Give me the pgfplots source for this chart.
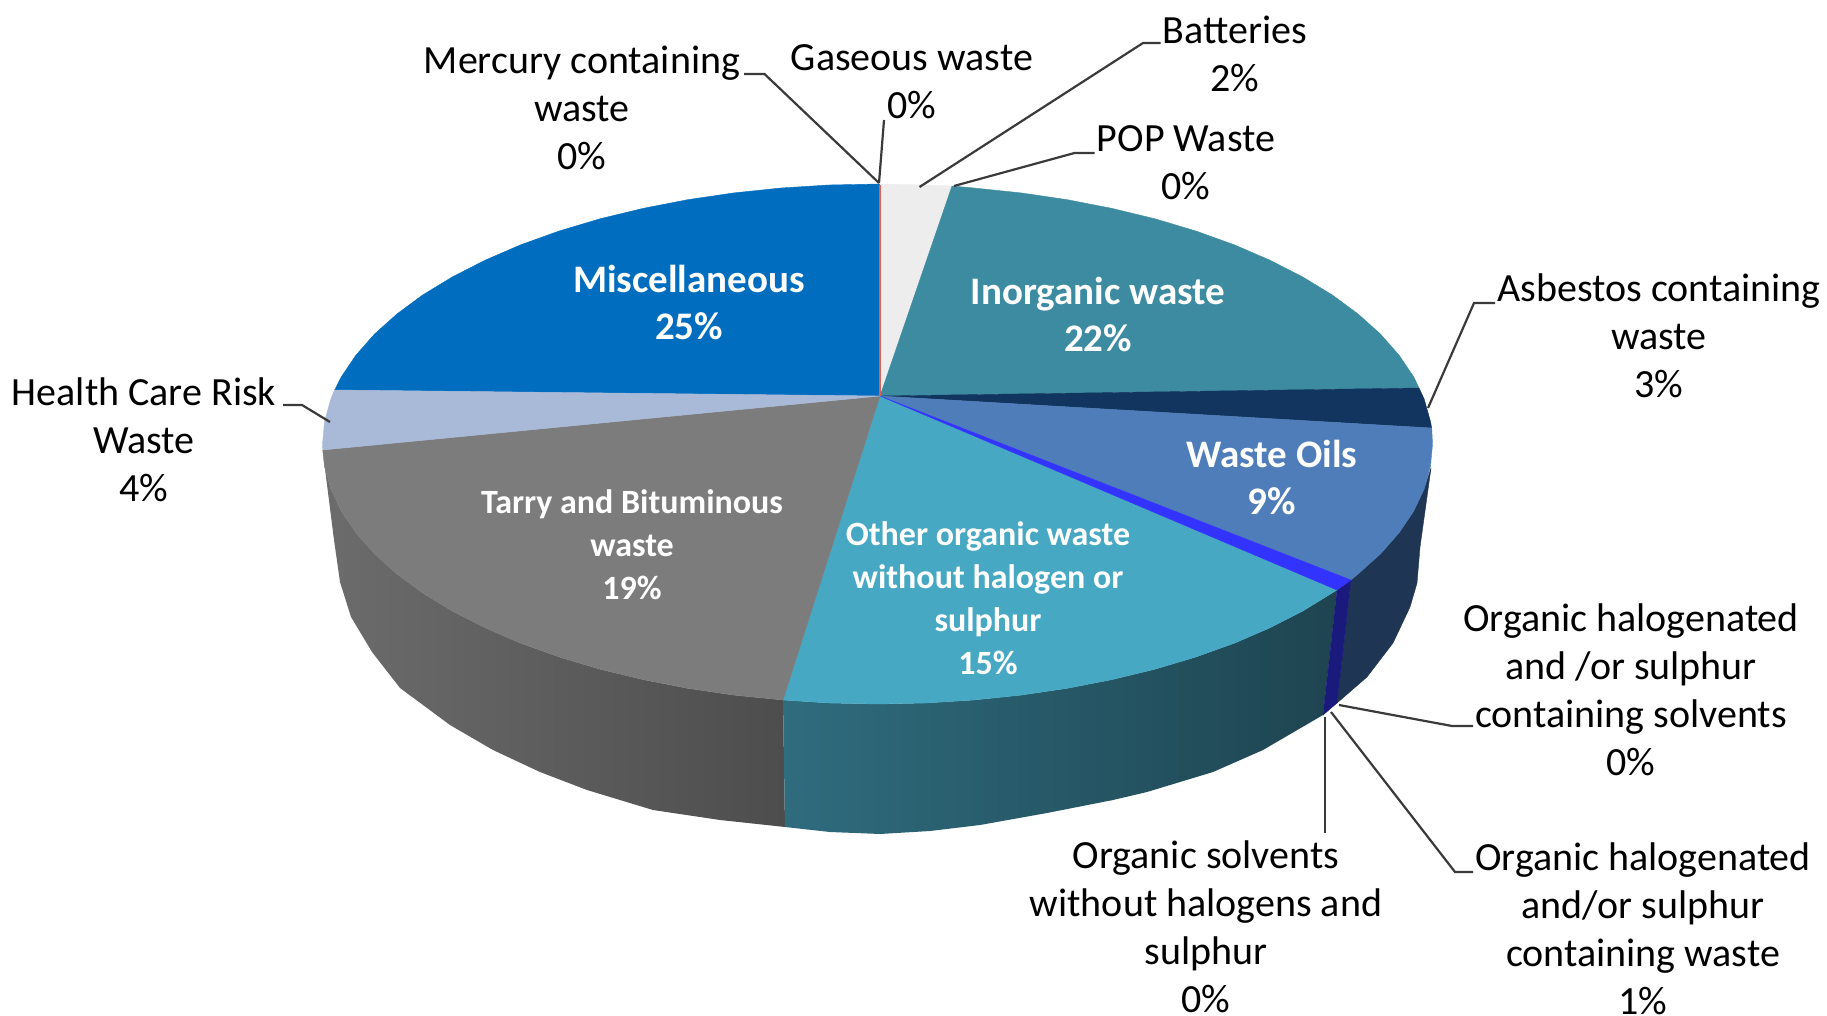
\documentclass[border=0pt]{standalone}
\usepackage{pgfplots}
\pgfplotsset{compat=1.18}
\usepackage{fontspec}
\setmainfont{Carlito}
\definecolor{cMisc}{HTML}{006DBF}
\definecolor{cBatt}{HTML}{EDEDED}
\definecolor{cInorg}{HTML}{3D8BA1}
\definecolor{cAsb}{HTML}{12355F}
\definecolor{cOils}{HTML}{4F7DB9}
\definecolor{cThin}{HTML}{3333FF}
\definecolor{cOther}{HTML}{47A8C4}
\definecolor{cTarry}{HTML}{7C7C7C}
\definecolor{cHealth}{HTML}{A9B9D8}
\definecolor{cLead}{HTML}{3A3A3A}
\definecolor{cGrayL}{HTML}{6C6C6C}
\definecolor{cGrayR}{HTML}{4D4D4D}
\definecolor{cTealL}{HTML}{2F6C7E}
\definecolor{cTealR}{HTML}{1E4450}
\definecolor{cNavySide}{HTML}{1E3553}
\definecolor{cThinSide}{HTML}{1A1A7D}
\definecolor{cRed}{HTML}{E26050}
\tikzset{
  lab/.style={align=center,inner sep=0pt,text=black,font=\fontsize{40}{48}\selectfont},
  wlab/.style={align=center,inner sep=0pt,text=white,font=\fontsize{39}{47}\selectfont\bfseries},
  wsmall/.style={align=center,inner sep=0pt,text=white,font=\fontsize{34}{43}\selectfont\bfseries},
}
\pgfplotsset{
  face/.style={fill=#1,draw=#1,line width=0.4pt,no markers,forget plot},
  leader/.style={draw=cLead,line width=2.2pt,no markers,forget plot},
}
\begin{document}
\begin{tikzpicture}
\begin{axis}[
  at={(0,0)},anchor=south west,
  scale only axis,width=1827pt,height=1016pt,
  xmin=0,xmax=1827,ymin=0,ymax=1016,y dir=reverse,
  hide axis,clip=false,
]
% side walls
\addplot[no markers,forget plot,draw=none,left color=cGrayL,right color=cGrayR] coordinates {
 (322.6,450) (324.6,466.7) (330.9,489.1) (341.4,511.3) (356,532.9) (374.5,553.9) (396.9,574) (422.8,593.1) (452.4,611.1) (485.1,627.8) (520.7,643.2) (559.2,657) (600,669.2) (643,679.6) (687.7,688.3) (733.9,695.1) (783,700)
 (785,827) (720,820) (653,810) (587,790) (540,772) (493,750) (450,725) (400,688) (372,652) (351,617) (340,582) (334,540)
} -- cycle;
\addplot[no markers,forget plot,draw=none,left color=cTealL,right color=cTealR] coordinates {
 (783,700) (829.1,703) (877.5,704) (925.9,703) (973.8,700) (1021.1,695.1) (1067.3,688.3) (1112,679.6) (1155,669.2) (1195.8,657) (1234.3,643.2) (1269.9,627.8) (1302.6,611.1) (1337,590)
 (1323,715) (1263,750) (1213,772) (1180,782) (1147,792) (1113,800) (1047,813) (980,825) (930,831) (880,834) (830,832) (785,827)
} -- cycle;
\addplot[face=cNavySide] coordinates {
 (1350.9,580) (1380.5,553.9) (1399,532.9) (1413.6,511.3) (1424.1,489.1) (1431,468) (1420,547) (1417,583) (1410,607) (1393,643) (1367,677) (1337,703)
} -- cycle;
\addplot[face=cThinSide] coordinates {
 (1337,590) (1350.9,580) (1337,703) (1323,715)
} -- cycle;
% top faces
\addplot[face=cMisc] coordinates {
 (880,396) (334.6,390) (341.4,376.7) (356,355.1) (374.5,334.1) (396.9,314) (422.8,294.9) (452.4,276.9) (485.1,260.2) (520.7,244.8) (559.2,231) (600,218.8) (643,208.4) (687.7,199.7) (733.9,192.9) (781.2,188) (829.1,185) (880,184)
} -- cycle;
\addplot[face=cBatt] coordinates {
 (880,396) (880,184) (925.9,185) (952,186)
} -- cycle;
\addplot[face=cInorg] coordinates {
 (880,396) (952,186) (973.8,188) (1021.1,192.9) (1067.3,199.7) (1112,208.4) (1155,218.8) (1195.8,231) (1234.3,244.8) (1269.9,260.2) (1302.6,276.9) (1332.2,294.9) (1358.1,314) (1380.5,334.1) (1399,355.1) (1413.6,376.7) (1419,388)
} -- cycle;
\addplot[face=cAsb] coordinates {
 (880,396) (1419,388) (1424.1,398.9) (1430.4,421.3) (1431.7,428)
} -- cycle;
\addplot[face=cOils] coordinates {
 (880,396) (1431.7,428) (1432.5,444) (1430.4,466.7) (1424.1,489.1) (1413.6,511.3) (1399,532.9) (1380.5,553.9) (1358.1,574) (1350.9,580)
} -- cycle;
\addplot[face=cOther] coordinates {
 (880,396) (1337,590) (1302.6,611.1) (1269.9,627.8) (1234.3,643.2) (1195.8,657) (1155,669.2) (1112,679.6) (1067.3,688.3) (1021.1,695.1) (973.8,700) (925.9,703) (877.5,704) (829.1,703) (783,700)
} -- cycle;
\addplot[face=cThin] coordinates {
 (880,396) (1350.9,580) (1337,590)
} -- cycle;
\addplot[face=cTarry] coordinates {
 (880,396) (783,700) (733.9,695.1) (687.7,688.3) (643,679.6) (600,669.2) (559.2,657) (520.7,643.2) (485.1,627.8) (452.4,611.1) (422.8,593.1) (396.9,574) (374.5,553.9) (356,532.9) (341.4,511.3) (330.9,489.1) (324.6,466.7) (322.8,450)
} -- cycle;
\addplot[face=cHealth] coordinates {
 (880,396) (322.8,450) (322.5,444) (324.6,421.3) (330.9,398.9) (334.6,390)
} -- cycle;
\addplot[no markers,forget plot,draw=cRed,line width=1.2pt] coordinates {(880,185) (880,396)};
% leaders
\addplot[leader] coordinates {(744,74) (764.5,74) (879,183)};
\addplot[leader] coordinates {(884,120) (879,183)};
\addplot[leader] coordinates {(1160.6,43) (1143,43) (919.5,187)};
\addplot[leader] coordinates {(1094.6,153) (1074.5,153) (954,186)};
\addplot[leader] coordinates {(1495,303) (1474,303) (1428,408)};
\addplot[leader] coordinates {(283,405) (302,405) (330,422)};
\addplot[leader] coordinates {(1473,726) (1452,726) (1339,705)};
\addplot[leader] coordinates {(1473,872) (1455,872) (1331,712)};
\addplot[leader] coordinates {(1325,833) (1325,717)};
% labels
\node[lab] at (axis cs:582,108) {Mercury containing\\waste\\0\%};
\node[lab] at (axis cs:912,82) {Gaseous waste\\0\%};
\node[lab] at (axis cs:1235,54) {Batteries\\2\%};
\node[lab] at (axis cs:1186,163) {POP Waste\\0\%};
\node[lab] at (axis cs:1659,336) {Asbestos containing\\waste\\3\%};
\node[lab] at (axis cs:144,440) {Health Care Risk\\Waste\\4\%};
\node[lab] at (axis cs:1631,690) {Organic halogenated\\and /or sulphur\\containing solvents\\0\%};
\node[lab] at (axis cs:1643,929) {Organic halogenated\\and/or sulphur\\containing waste\\1\%};
\node[lab] at (axis cs:1206,927) {Organic solvents\\without halogens and\\sulphur\\0\%};
\node[wlab] at (axis cs:689,302) {Miscellaneous\\25\%};
\node[wlab] at (axis cs:1098,314) {Inorganic waste\\22\%};
\node[wlab] at (axis cs:1272,477) {Waste Oils\\9\%};
\node[wsmall] at (axis cs:632,545) {Tarry and Bituminous\\waste\\19\%};
\node[wsmall] at (axis cs:988,598) {Other organic waste\\without halogen or\\sulphur\\15\%};
\end{axis}
\pgfresetboundingbox
\path (0,0) rectangle (1827pt,1016pt);
\end{tikzpicture}
\end{document}
